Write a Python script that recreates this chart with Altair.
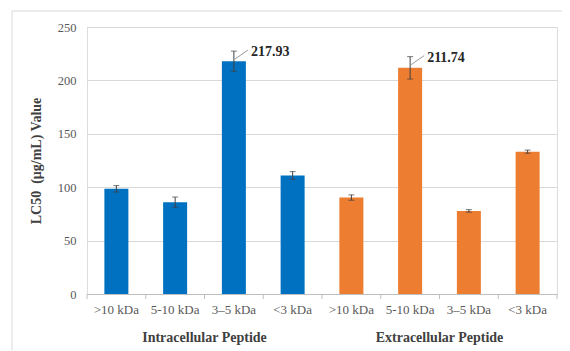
import altair as alt
import pandas as pd

sizes = [">10 kDa", "5-10 kDa", "3–5 kDa", "<3 kDa"]
groups = ["Intracellular Peptide", "Extracellular Peptide"]
intra_vals = [98.5, 86.0, 217.93, 111.0]
intra_err = [3.0, 4.8, 9.5, 3.6]
extra_vals = [90.3, 211.74, 77.8, 133.3]
extra_err = [2.5, 10.5, 1.2, 1.5]
colors = ["#0070C0", "#ED7D31"]
labelled = ["I|3–5 kDa", "E|5-10 kDa"]

rows = []
for g, code, vals, errs in [(groups[0], "I", intra_vals, intra_err), (groups[1], "E", extra_vals, extra_err)]:
    for s, v, e in zip(sizes, vals, errs):
        rows.append({"key": f"{code}|{s}", "size": s, "group": g, "value": v,
                     "lo": v - e, "hi": v + e, "label": f"{v:.2f}"})
df = pd.DataFrame(rows)
order = list(df["key"])

W, H = 470, 267
serif = "Liberation Serif"

xscale = alt.Scale(domain=order, paddingInner=0, paddingOuter=0)
yscale = alt.Scale(domain=[0, 250], nice=False)

def X(**kw):
    return alt.X("key:N", scale=xscale, sort=order, **kw)

base = alt.Chart(df)

bars = base.mark_bar(size=24).encode(
    x=X(axis=alt.Axis(title=None, labelExpr="split(datum.value, '|')[1]", labelAngle=0,
                      ticks=False, domainColor="#bfbfbf", labelFont=serif, labelFontSize=13,
                      labelColor="#595959", labelPadding=9)),
    y=alt.Y("value:Q", scale=yscale,
            axis=alt.Axis(title="LC50\u00a0\u00a0(μg/mL) Value", values=[0, 50, 100, 150, 200, 250],
                          domain=False, ticks=False, gridColor="#d9d9d9", labelFont=serif,
                          labelFontSize=12.5, labelColor="#595959", labelPadding=11,
                          titleFont=serif, titleFontSize=14, titleFontWeight="bold",
                          titleColor="#404040", titlePadding=14)),
    color=alt.Color("group:N", scale=alt.Scale(domain=groups, range=colors), legend=None),
)

err = base.mark_rule(color="#404040", strokeWidth=1).encode(
    x=X(), y=alt.Y("lo:Q", scale=yscale), y2="hi:Q")
cap_hi = base.mark_tick(color="#404040", size=6, thickness=1, orient="horizontal").encode(
    x=X(), y=alt.Y("hi:Q", scale=yscale))
cap_lo = base.mark_tick(color="#404040", size=6, thickness=1, orient="horizontal").encode(
    x=X(), y=alt.Y("lo:Q", scale=yscale))

lab_df = df[df["key"].isin(labelled)]
leader = alt.Chart(lab_df).mark_rule(color="#7f7f7f", strokeWidth=0.8, xOffset=1, x2Offset=14,
                                      yOffset=8, y2Offset=-1).encode(
    x=X(), x2="key:N", y=alt.Y("hi:Q", scale=yscale), y2="hi:Q")
labels = alt.Chart(lab_df).mark_text(align="left", baseline="middle", dx=17, dy=1, font=serif,
                                      fontSize=14, fontWeight="bold", color="#262626").encode(
    x=X(), y=alt.Y("hi:Q", scale=yscale), text="label:N")

ticks = alt.Chart(df).mark_rule(color="#bfbfbf", y2Offset=5).encode(
    x=X(bandPosition=0), y=alt.datum(0, scale=yscale), y2=alt.datum(0))
end_tick = alt.Chart(df.tail(1)).mark_rule(color="#bfbfbf", y2Offset=5).encode(
    x=X(bandPosition=1), y=alt.datum(0, scale=yscale), y2=alt.datum(0))

grp_df = pd.DataFrame({"key": ["I|3–5 kDa", "E|3–5 kDa"], "group": groups})
grp = alt.Chart(grp_df).mark_text(baseline="middle", dy=44, font=serif, fontSize=14,
                                   fontWeight="bold", color="#404040").encode(
    x=X(bandPosition=0), y=alt.datum(0, scale=yscale), text="group:N")

frame = alt.Chart(pd.DataFrame({"a": [0]})).mark_rect(fill=None, stroke="#d9d9d9", strokeWidth=1).encode(
    x=alt.value(-75), x2=alt.value(560), y=alt.value(-16), y2=alt.value(400))

chart = alt.layer(frame, bars, err, cap_hi, cap_lo, leader, labels, ticks, end_tick, grp).properties(
    width=W, height=H,
    autosize=alt.AutoSizeParams(type="none"),
    padding={"left": 79, "top": 19, "right": 5, "bottom": 56},
).configure_view(stroke=None).configure(background="white", font=serif)

chart.save("out.html", embed_options={"renderer": "svg", "actions": False})
